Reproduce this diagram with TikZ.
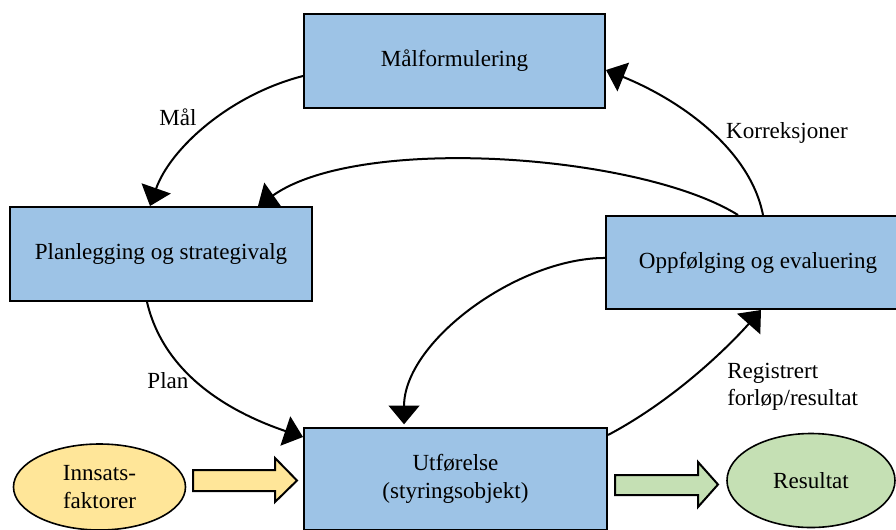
\documentclass[tikz,border=0pt]{standalone}
\usepackage{fontspec}
\setmainfont{Liberation Serif}
\usetikzlibrary{arrows.meta,shapes.geometric}
\definecolor{boxblue}{HTML}{9DC3E6}
\definecolor{inyellow}{HTML}{FFE699}
\definecolor{resgreen}{HTML}{C5E0B4}
\begin{document}
\begin{tikzpicture}[x=0.75pt,y=-0.75pt,
  every node/.style={font=\fontsize{17.3}{20.5}\selectfont},
  box/.style={draw=black,line width=1.5pt,fill=boxblue,align=center,inner sep=0pt},
  oval/.style={draw=black,line width=1.2pt,ellipse,align=center,inner sep=0pt},
  conn/.style={line width=1.5pt,-{Triangle[length=14pt,width=23pt]}},
  blockarrow/.style={draw=black,line width=1.5pt,line join=miter},
  lbl/.style={inner sep=0pt}]
\useasboundingbox (0,0) rectangle (896,529);
% boxes
\node[box,minimum width=225.75pt,minimum height=70.5pt] (maal) at (454.5,61) {Målformulering};
\node[box,minimum width=226.5pt,minimum height=70.5pt] (plan) at (161,254) {Planlegging og strategivalg};
\node[box,minimum width=228pt,minimum height=69.75pt] (oppf) at (758,262.5) {Oppfølging og evaluering};
\node[box,minimum width=227.25pt,minimum height=76.5pt] (utf) at (455.5,479) {Utførelse\\(styringsobjekt)};
% ellipses
\node[oval,fill=inyellow,minimum width=129pt,minimum height=64.5pt] (inn) at (99.5,487) {Innsats-\\faktorer};
\node[oval,fill=resgreen,minimum width=126pt,minimum height=70.5pt] (res) at (811,480.5) {Resultat};
% block arrows
\draw[blockarrow,fill=inyellow] (193,470) -- (275,470) -- (275,458) -- (297,480.5) -- (275,502) -- (275,491) -- (193,491) -- cycle;
\draw[blockarrow,fill=resgreen] (615,475) -- (698,475) -- (698,462) -- (718,484.5) -- (698,507) -- (698,495) -- (615,495) -- cycle;
% connectors
\draw[conn] ([yshift=-11.25pt]maal.west) .. controls +(-74,19) and +(20,-57) .. ([xshift=-8.25pt]plan.north);
\draw[conn] ([xshift=-15pt]oppf.north) .. controls +(-98,-61) and +(102,-72) .. ([xshift=72.75pt]plan.north);
\draw[conn] ([xshift=3.75pt]oppf.north) .. controls +(-13,-66) and +(74,30) .. ([yshift=-6.75pt]maal.east);
\draw[conn] ([xshift=-10.5pt]plan.south) .. controls +(18,77) and +(-65,-22) .. ([yshift=-7.5pt]utf.north west);
\draw[conn] ([yshift=3.4pt]oppf.west) .. controls +(-87,0) and +(0,-83) .. ([xshift=-38.6pt,yshift=2pt]utf.north);
\draw[conn] ([yshift=-6pt]utf.north east) .. controls +(68,-36) and +(-31,35) .. ([xshift=2.25pt]oppf.south);
% labels
\node[lbl] (lmaal) at (178,117) {Mål};
\node[lbl] (lkorr) at (787,133) {Korreksjoner};
\node[lbl] (lplan) at (168,381) {Plan};
\node[lbl,anchor=west,align=left] (lreg) at (727,387) {Registrert\\forløp/resultat};
\end{tikzpicture}
\end{document}
